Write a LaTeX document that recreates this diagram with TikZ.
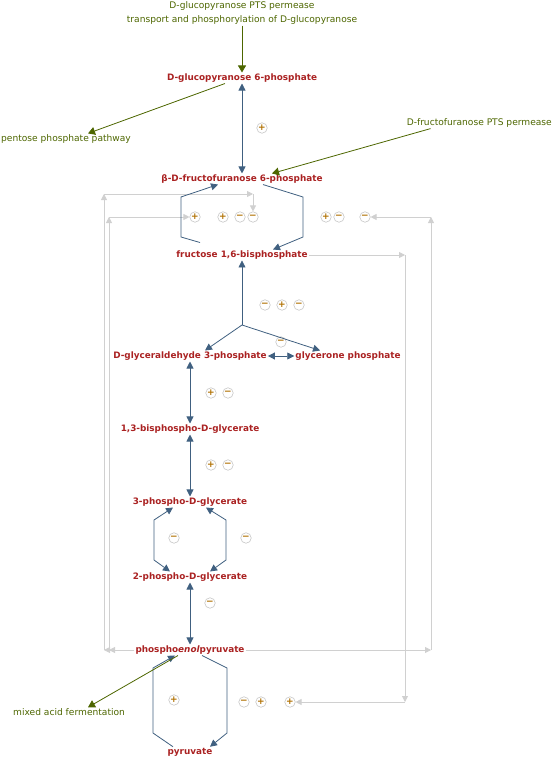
\documentclass[tikz,border=0pt]{standalone}
\usepackage{fontspec}
\setmainfont{DejaVu Sans}
\usetikzlibrary{arrows.meta}
\definecolor{metred}{RGB}{170,34,34}
\definecolor{pwgreen}{RGB}{77,102,0}
\definecolor{rxnblue}{RGB}{64,96,128}
\definecolor{reggray}{RGB}{208,208,208}
\definecolor{modsign}{RGB}{176,112,0}
\begin{document}
\begin{tikzpicture}[x=1pt,y=-1pt,
    met/.style={font=\fontsize{8.85}{10}\selectfont\bfseries,text=metred,inner sep=1pt},
    pwlabel/.style={font=\fontsize{9.1}{14}\selectfont,text=pwgreen,inner sep=1pt},
    rxn/.style={draw=rxnblue,line width=0.8pt,-{Triangle[length=7pt,width=7pt]}},
    rrxn/.style={rxn,{Triangle[length=7pt,width=7pt]}-{Triangle[length=7pt,width=7pt]}},
    pw/.style={draw=pwgreen,line width=0.8pt,-{Triangle[length=7pt,width=8pt]}},
    reg/.style={draw=reggray,line width=0.8pt,-{Triangle[length=6pt,width=6pt]}},
    mod/.style={circle,draw=black!22,fill=white,line width=0.6pt,minimum size=10.5pt,inner sep=0pt,
        text=modsign,font=\fontsize{9}{9}\selectfont\bfseries}]
    \useasboundingbox (0,0) rectangle (552,757);
    \node[pwlabel,align=center] (ptsg) at (242,13) {D-glucopyranose PTS permease\\transport and phosphorylation of D-glucopyranose};
    \node[met] (g6p) at (242,78) {D-glucopyranose 6-phosphate};
    \node[pwlabel,anchor=west] (ppp) at (0,139) {pentose phosphate pathway};
    \node[pwlabel,anchor=east] (fpts) at (553,123) {D-fructofuranose PTS permease};
    \node[met] (f6p) at (242,179) {β-D-fructofuranose 6-phosphate};
    \node[met] (fbp) at (242,255) {fructose 1,6-bisphosphate};
    \node[met] (gap) at (190,356) {D-glyceraldehyde 3-phosphate};
    \node[met] (dhap) at (348,356) {glycerone phosphate};
    \node[met] (bpg) at (190,429) {1,3-bisphospho-D-glycerate};
    \node[met] (pg3) at (190,502) {3-phospho-D-glycerate};
    \node[met] (pg2) at (190,577) {2-phospho-D-glycerate};
    \node[met] (pep) at (190,650) {phospho\textit{enol}pyruvate};
    \node[met] (pyr) at (190,752) {pyruvate};
    \node[pwlabel,anchor=west] (mixacid) at (12,712) {mixed acid fermentation};
    \coordinate (ald) at (242,325);
    \coordinate (la) at (104,650); \coordinate (lb) at (104,194); \coordinate (lc) at (253,194);
    \coordinate (ka) at (109,650); \coordinate (kb) at (109,217);
    \coordinate (ra) at (431,650); \coordinate (rb) at (431,217);
    \coordinate (sa) at (405,255); \coordinate (sb) at (405,702);
    \foreach \n/\x/\y/\s in {m1/262/128/+,m2/195/217/+,m3/223/217/+,m4/240/217/−,m5/253/217/−,
            m6/326/217/+,m7/339/217/−,m8/365/217/−,m9/265/305/−,m10/282/305/+,m11/299/305/−,
            m12/281/342/−,m13/211/393/+,m14/228/393/−,m15/211/465/+,m16/228/465/−,
            m17/174/538/−,m18/246/538/−,m19/210/603/−,m20/174/700/+,m21/244/702/−,
            m22/261/702/+,m23/290/702/+}
        \node[mod] (\n) at (\x,\y) {\s};
    \foreach \p/\q in {pep.west/la,la/lb,lb/lc,lc/m5,pep.west/ka,ka/kb,kb/m2,
            pep.east/ra,ra/rb,rb/m8,fbp.east/sa,sa/sb,sb/m23}
        \draw[reg] (\p) -- (\q);
    \draw[rrxn] (g6p) -- (f6p);
    \draw[rxn] ([xshift=-42pt,yshift=7pt]fbp.north) -- (181,237) -- (181,197) -- ([xshift=-24pt]f6p.south);
    \draw[rxn] ([xshift=21pt]f6p.south) -- (303,197) -- (303,237) -- ([xshift=31pt]fbp.north);
    \draw[rxn] (ald) -- (fbp);
    \draw[rxn] (ald) -- ([xshift=15pt]gap.north);
    \draw[rxn] (ald) -- ([xshift=-28pt]dhap.north);
    \draw[rrxn] (gap) -- (dhap);
    \draw[rrxn] (gap) -- (bpg);
    \draw[rrxn] (bpg) -- (pg3);
    \draw[rrxn] ([xshift=-17pt]pg3.south) -- (154,520) -- (154,560) -- ([xshift=-20pt]pg2.north);
    \draw[rrxn] ([xshift=16pt]pg3.south) -- (226,520) -- (226,560) -- ([xshift=20pt]pg2.north);
    \draw[rrxn] (pg2) -- (pep);
    \draw[rxn] ([xshift=12pt]pep.south) -- (227,668) -- (227,733) -- ([xshift=20pt]pyr.north);
    \draw[rxn] ([xshift=-17pt]pyr.north) -- (153,733) -- (153,668) -- ([xshift=-15pt]pep.south);
    \draw[pw] (ptsg) -- (g6p);
    \draw[pw] ([xshift=-17pt]g6p.south) -- ([xshift=88pt]ppp.north west);
    \draw[pw] ([xshift=25pt]fpts.south west) -- ([xshift=30pt]f6p.north);
    \draw[pw] ([xshift=-12pt]pep.south) -- ([xshift=76pt]mixacid.north west);
\end{tikzpicture}
\end{document}
